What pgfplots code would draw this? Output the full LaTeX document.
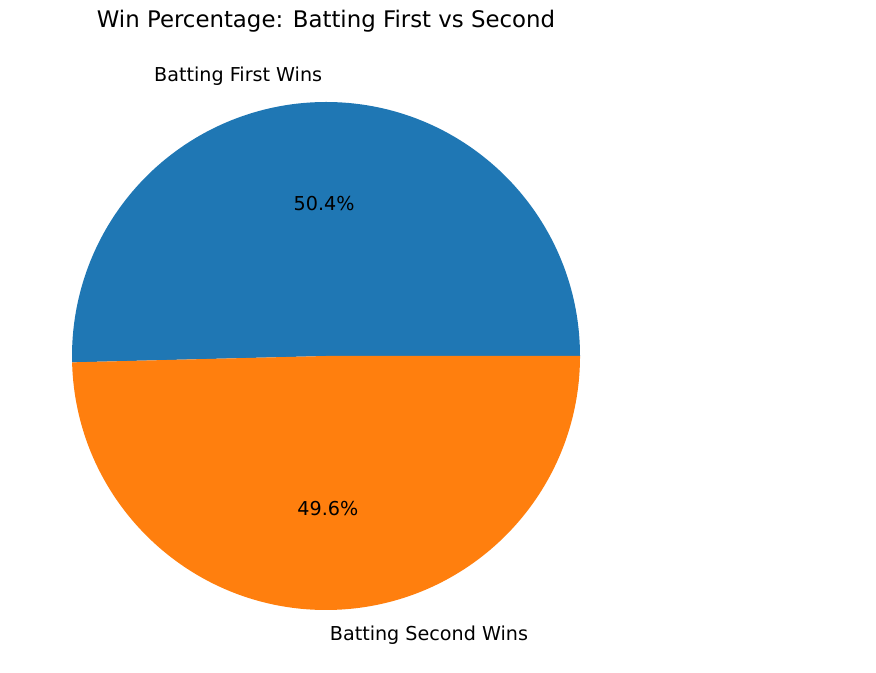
\documentclass[border=0pt]{standalone}
\usepackage{pgfplots}
\pgfplotsset{compat=1.18}
\usepackage{pgfplotstable}
\usepackage{fontspec}
\setmainfont{DejaVu Sans}
\definecolor{tabblue}{HTML}{1F77B4}
\definecolor{taborange}{HTML}{FF7F0E}

% share of wins
\pgfplotstableread{
label value
First 50.4
Second 49.6
}\piedata

\begin{document}
\begin{tikzpicture}
\pgfplotstablegetelem{0}{value}\of\piedata \let\vA\pgfplotsretval
\pgfplotstablegetelem{1}{value}\of\piedata \let\vB\pgfplotsretval
\pgfmathsetmacro\aA{\vA/(\vA+\vB)*360}
\pgfmathsetmacro\mA{\aA/2}
\pgfmathsetmacro\mB{(\aA+360)/2}
\begin{axis}[
  hide axis, scale only axis,
  width=17.52cm, height=13.46cm,
  xmin=-1.2835, xmax=2.1654, ymin=-1.248, ymax=1.4016,
  clip=false,
  /pgf/number format/assume math mode=true,
]
\path (rel axis cs:0,0) rectangle (rel axis cs:1,1);
\fill[tabblue] (axis cs:0,0) -- (axis cs:1,0)
  arc[start angle=0, end angle=\aA, radius=5.08cm] -- cycle;
\fill[taborange] (axis cs:0,0) -- (axis cs:{cos(\aA)},{sin(\aA)})
  arc[start angle=\aA, end angle=360, radius=5.08cm] -- cycle;
\node[anchor=east, font=\fontsize{10.9}{12}\selectfont, inner sep=0pt]
  at (axis cs:{1.1*cos(\mA)},{1.1*sin(\mA)}) {Batting First Wins};
\node[anchor=west, font=\fontsize{10.9}{12}\selectfont, inner sep=0pt]
  at (axis cs:{1.1*cos(\mB)},{1.1*sin(\mB)}) {Batting Second Wins};
\node[font=\fontsize{10.9}{12}\selectfont, inner sep=0pt]
  at (axis cs:{0.6*cos(\mA)},{0.6*sin(\mA)}) {\pgfmathprintnumber[fixed,fixed zerofill,precision=1,assume math mode=true]{\vA}\%};
\node[font=\fontsize{10.9}{12}\selectfont, inner sep=0pt]
  at (axis cs:{0.6*cos(\mB)},{0.6*sin(\mB)}) {\pgfmathprintnumber[fixed,fixed zerofill,precision=1,assume math mode=true]{\vB}\%};
\node[font=\fontsize{13}{15}\selectfont, inner sep=0pt]
  at (axis cs:0,1.319) {Win Percentage: Batting First vs Second};
\end{axis}
\end{tikzpicture}
\end{document}
